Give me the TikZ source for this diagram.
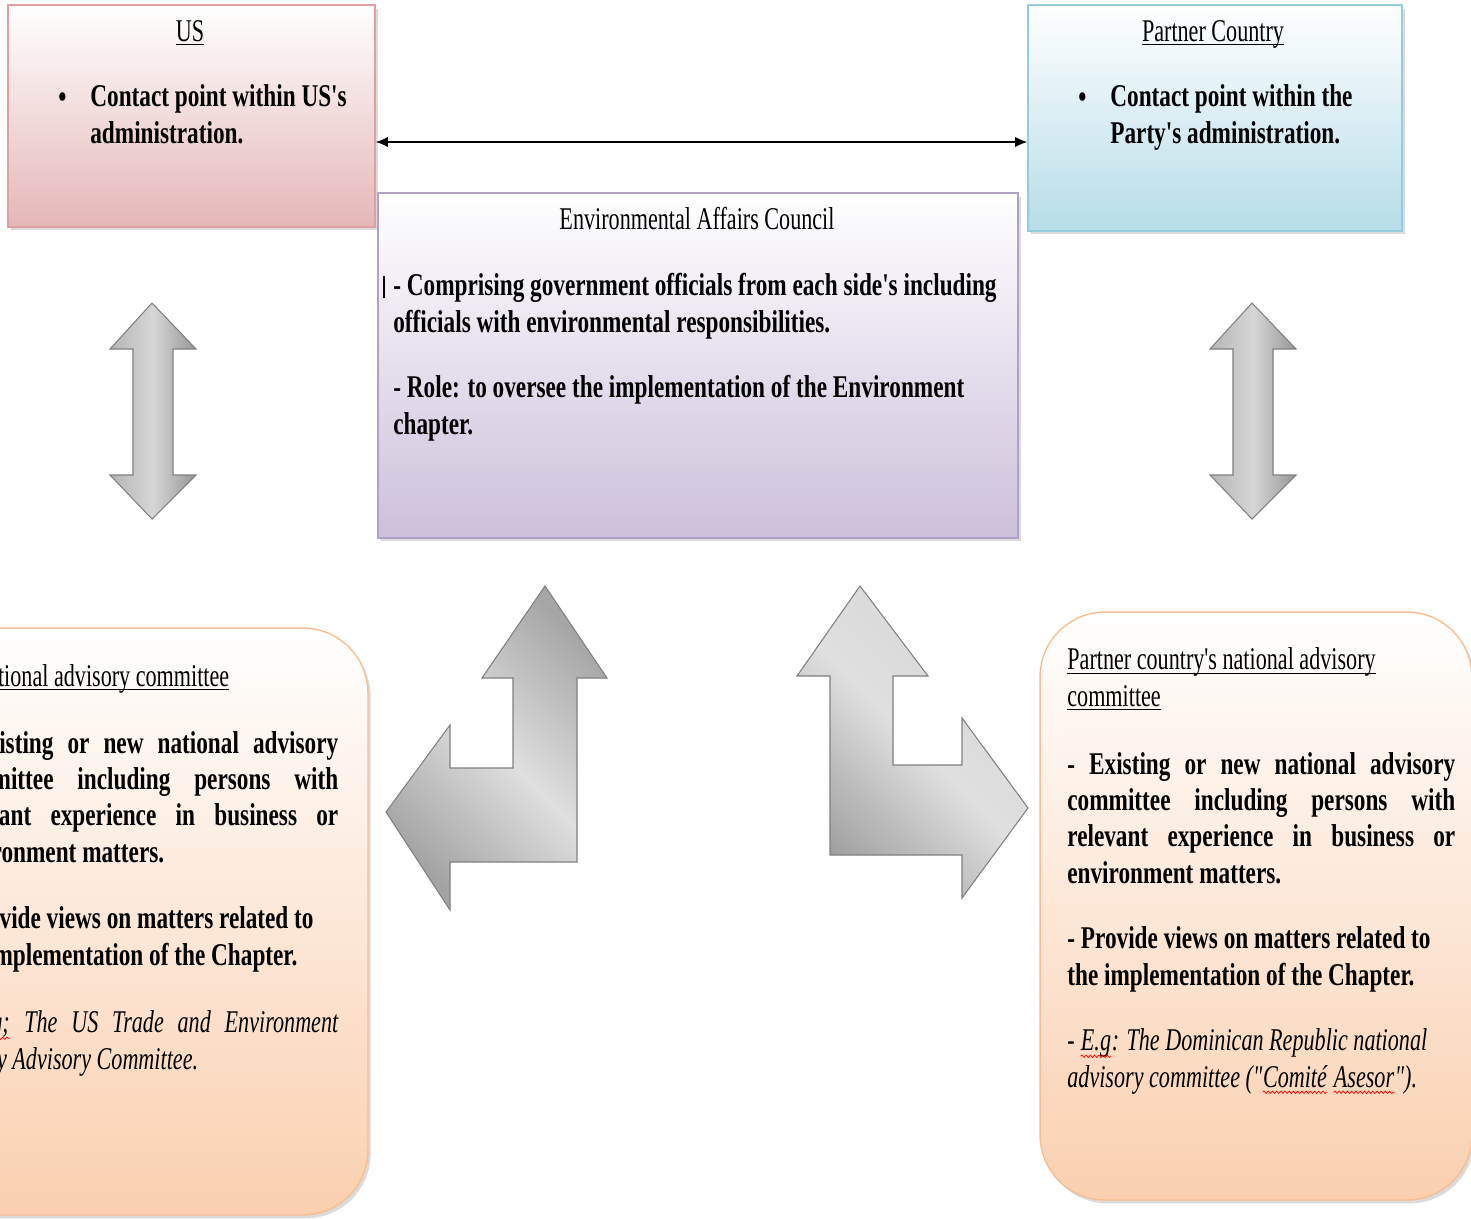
\documentclass[tikz,border=0pt]{standalone}
\usepackage{fontspec}
\setmainfont{Liberation Serif}[Ligatures=TeXOff, FakeStretch=0.7, BoldFeatures={FakeStretch=0.735}]
\usetikzlibrary{arrows.meta,shadows,decorations.pathmorphing}

\definecolor{uspink}{RGB}{229,183,183}
\definecolor{usedge}{RGB}{222,160,160}
\definecolor{pcblue}{RGB}{182,221,232}
\definecolor{pcedge}{RGB}{150,205,222}
\definecolor{eaclilac}{RGB}{204,192,218}
\definecolor{eacedge}{RGB}{178,161,199}
\definecolor{advpeach}{RGB}{250,208,176}
\definecolor{advedge}{RGB}{248,190,145}

\tikzstyle{box} = [rectangle, draw, line width=0.8pt,
	drop shadow={shadow xshift=1.5pt,shadow yshift=-2pt,fill=gray!55}]
\tikzstyle{txt} = [inner sep=0pt, anchor=base west, align=left,
	font=\fontsize{18}{20.5}\selectfont]
\tikzstyle{body} = [txt, font=\fontsize{18}{20.5}\selectfont\bfseries]
\tikzstyle{fat} = [draw=gray, line width=0.6pt]

\newcommand{\jline}[1]{\makebox[7.76cm][s]{#1}}
\newcommand{\uln}[1]{\setbox0\hbox{#1}\rlap{\rule[-2.5pt]{\wd0}{0.7pt}}\box0}
\newcommand{\spell}[1]{\tikz[baseline=(w.base)]{\node[inner sep=0pt] (w) {#1};
	\draw[red, line width=0.4pt, decorate, decoration={snake, amplitude=0.7pt, segment length=2.4pt}]
	([yshift=-3pt]w.base west) -- ([yshift=-3pt]w.base east);}}

\begin{document}
\begin{tikzpicture}[x=0.02cm,y=-0.02cm]
\useasboundingbox (0,0) rectangle (1471,1218);
\clip (0,0) rectangle (1471,1218);
\fill[white] (0,0) rectangle (1471,1218);

% top row (text nodes sit on the baseline of their last line)
\node[box, draw=usedge, top color=white, bottom color=uspink,
	minimum width=7.34cm, minimum height=4.44cm] (us) at (191.5,116) {};
\node[box, draw=pcedge, top color=white, bottom color=pcblue,
	minimum width=7.48cm, minimum height=4.52cm] (pc) at (1215,118) {};
\node[box, draw=eacedge, top color=white, bottom color=eaclilac,
	minimum width=12.8cm, minimum height=6.9cm] (eac) at (698,365.5) {};

\node[txt, anchor=base] (ush) at (190,41) {\uln{US}};
\node[body] (usb) at (58,107) {\textbullet};
\node[body] (ust) at (90,143) {Contact point within US's\\administration.};

\node[txt, anchor=base] (pch) at (1213,41) {\uln{Partner Country}};
\node[body] (pcb) at (1078,107) {\textbullet};
\node[body] (pct) at (1110,143) {Contact point within the\\Party's administration.};

\coordinate (ay) at (0,142);
\draw[{Latex[length=7pt,width=6pt]}-{Latex[length=7pt,width=6pt]}, line width=0.9pt]
	(us.east |- ay) -- (pc.west |- ay);

\node[txt, anchor=base] (each) at (697,229) {Environmental Affairs Council};
\draw[line width=0.7pt] (384,276) -- (384,298);
\node[body] (eac1) at (393,332) {- Comprising government officials from each side's including\\officials with environmental responsibilities.};
\node[body] (eac2) at (393,434) {- Role: to oversee the implementation of the Environment\\chapter.};

% up and down arrows
\foreach \cx in {152,1252}
	\path[fat, left color=gray!58, right color=gray!82, middle color=gray!32]
		(\cx,303) -- (\cx+44,349) -- (\cx+21,349) -- (\cx+21,475) -- (\cx+44,475)
		-- (\cx,519) -- (\cx-42,475) -- (\cx-19,475) -- (\cx-19,349) -- (\cx-42,349) -- cycle;

% bent arrows
\path[fat, top color=gray!70, bottom color=gray!72, middle color=gray!25, shading angle=-45]
	(545,586) -- (607,678) -- (577,678) -- (577,862) -- (450,862) -- (450,910)
	-- (386,812) -- (450,725) -- (450,768) -- (513,768) -- (513,678) -- (482,678) -- cycle;
\path[fat, top color=gray!32, bottom color=gray!75, middle color=gray!25, shading angle=-45]
	(860,586) -- (928,676) -- (893,676) -- (893,765) -- (962,765) -- (962,718)
	-- (1028,808) -- (962,898) -- (962,855) -- (830,855) -- (830,676) -- (797,676) -- cycle;

% advisory committees
\node[box, draw=advedge, rounded corners=1.3cm, top color=white, bottom color=advpeach,
	minimum width=8.76cm, minimum height=11.74cm] (usadv) at (149,921.5) {};
\node[box, draw=advedge, rounded corners=1.3cm, top color=white, bottom color=advpeach,
	minimum width=8.64cm, minimum height=11.76cm] (pcadv) at (1256,906) {};

\node[txt] (usadvh) at (-57,686) {\uln{US national advisory committee}};
\node[body] (usadv1) at (-50,862) {\jline{- Existing or new national advisory}\\\jline{committee including persons with}\\\jline{relevant experience in business or}\\environment matters.};
\node[body] (usadv2) at (-50,965) {- Provide views on matters related to\\the implementation of the Chapter.};
\node[txt, font=\fontsize{18}{20.5}\selectfont\itshape] (usadv3) at (-50,1069) {\jline{- \spell{E.g;} The US Trade and Environment}\\Policy Advisory Committee.};

\node[txt] (pcadvh) at (1067,706) {\uln{Partner country's national advisory}\\\uln{committee}};
\node[body] (pcadv1) at (1067,883) {\jline{- Existing or new national advisory}\\\jline{committee including persons with}\\\jline{relevant experience in business or}\\environment matters.};
\node[body] (pcadv2) at (1067,985) {- Provide views on matters related to\\the implementation of the Chapter.};
\node[txt, font=\fontsize{18}{20.5}\selectfont\itshape] (pcadv3) at (1067,1087) {- \spell{E.g}: The Dominican Republic national\\advisory committee ("\spell{Comité} \spell{Asesor}").};
\end{tikzpicture}
\end{document}
